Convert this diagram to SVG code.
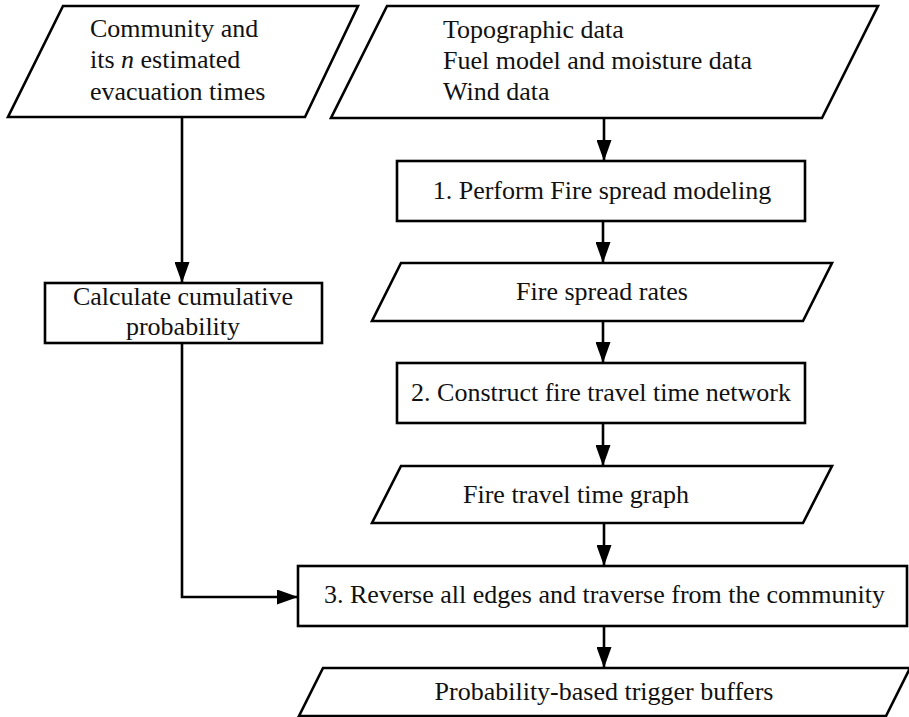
<svg xmlns="http://www.w3.org/2000/svg" width="909" height="717" viewBox="0 0 909 717">
<style>
.s{fill:#fff;stroke:#000;stroke-width:2.6}
.t{font-family:"Liberation Serif","Times New Roman",serif;font-size:26px;fill:#111}
.c{text-anchor:middle}
.e{fill:none;stroke:#000;stroke-width:2.6}
</style>
<defs>
<marker id="ah" viewBox="0 0 21 15" refX="21" refY="7.5" markerWidth="21" markerHeight="15" markerUnits="userSpaceOnUse" orient="auto">
<path d="M0,0 L21,7.5 L0,15 Z" fill="#000"/>
</marker>
</defs>
<rect width="909" height="717" fill="#fff"/>
<g id="community">
<polygon class="s" points="63,6 358,6 305,117 8,117"/>
<text class="t" x="90" y="37">Community and</text>
<text class="t" x="90" y="68">its <tspan font-style="italic">n</tspan> estimated</text>
<text class="t" x="90" y="100">evacuation times</text>
</g>
<g id="inputs">
<polygon class="s" points="387,6 878,6 822,118 331,118"/>
<text class="t" x="443" y="38">Topographic data</text>
<text class="t" x="443" y="69">Fuel model and moisture data</text>
<text class="t" x="443" y="100">Wind data</text>
</g>
<g id="step1">
<rect class="s" x="397" y="161" width="408" height="60"/>
<text class="t c" x="602" y="199">1. Perform Fire spread modeling</text>
</g>
<g id="rates">
<polygon class="s" points="401,263 832,263 803,321 372,321"/>
<text class="t c" x="602" y="300">Fire spread rates</text>
</g>
<g id="step2">
<rect class="s" x="397" y="363" width="408" height="60"/>
<text class="t c" x="601" y="401">2. Construct fire travel time network</text>
</g>
<g id="graph">
<polygon class="s" points="401,466 832,466 803,523 372,523"/>
<text class="t" x="463" y="503">Fire travel time graph</text>
</g>
<g id="cumulative">
<rect class="s" x="45" y="283" width="277" height="60"/>
<text class="t c" x="183" y="305">Calculate cumulative</text>
<text class="t c" x="183" y="335">probability</text>
</g>
<g id="step3">
<rect class="s" x="298" y="566" width="609" height="60"/>
<text class="t" x="324" y="603">3. Reverse all edges and traverse from the community</text>
</g>
<g id="buffers">
<polygon class="s" points="323,668 910,668 886,716 299,716"/>
<text class="t c" x="604" y="700">Probability-based trigger buffers</text>
</g>
<g id="connectors">
<line class="e" x1="604" y1="118" x2="604" y2="161" marker-end="url(#ah)"/>
<line class="e" x1="603" y1="221" x2="603" y2="263" marker-end="url(#ah)"/>
<line class="e" x1="603" y1="321" x2="603" y2="363" marker-end="url(#ah)"/>
<line class="e" x1="603" y1="423" x2="603" y2="466" marker-end="url(#ah)"/>
<line class="e" x1="604" y1="523" x2="604" y2="566" marker-end="url(#ah)"/>
<line class="e" x1="604" y1="626" x2="604" y2="668" marker-end="url(#ah)"/>
<line class="e" x1="182" y1="117" x2="182" y2="283" marker-end="url(#ah)"/>
<polyline class="e" points="182,343 182,597 298,597" marker-end="url(#ah)"/>
</g>
</svg>
